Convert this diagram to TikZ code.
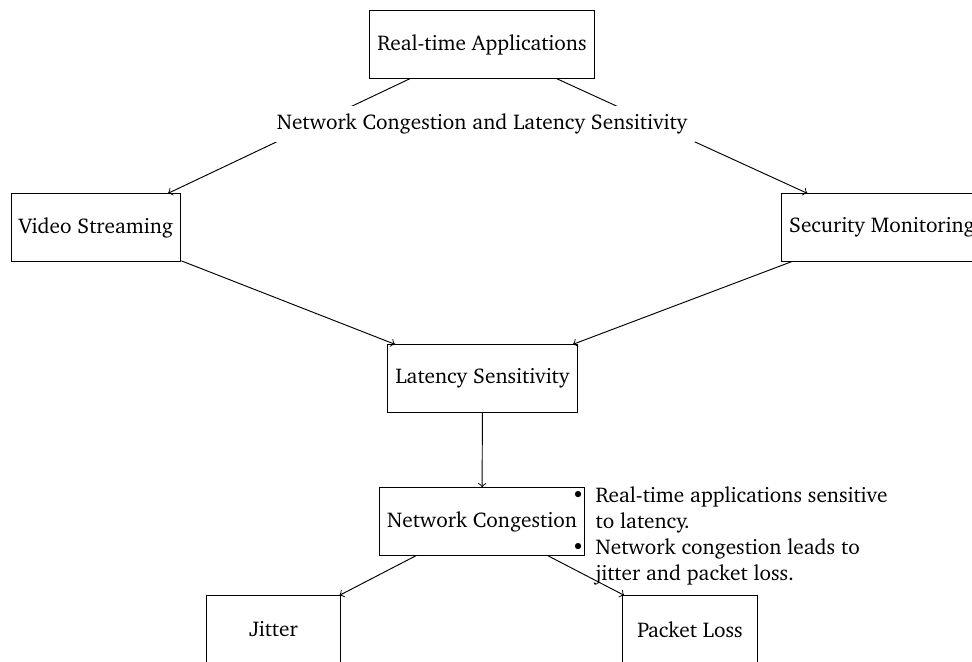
\documentclass[tikz,border=0pt]{standalone}
\usepackage[T1]{fontenc}
\usepackage{charter}
\begin{document}
\begin{tikzpicture}[x=0.4221pt,y=-0.4221pt,
  every node/.style={font=\fontsize{9}{11}\selectfont},
  box/.style={draw, minimum width=2cm, minimum height=1cm, inner sep=3.33pt},
  link/.style={->}]
\useasboundingbox (0,0) rectangle (972,661);
\clip (0,0) rectangle (972,661);
% boxes
\node[box] (rta) at (482,44.5) {Real-time Applications};
\node[box] (vs) at (96,227.5) {Video Streaming};
\node[box] (sm) at (882,227.5) {Security Monitoring};
\node[box] (ls) at (482.5,378.5) {Latency Sensitivity};
\node[box] (nc) at (482,521.5) {Network Congestion};
\node[box] (jit) at (273.5,629.5) {Jitter};
\node[box] (pl) at (690,629.5) {Packet Loss};
% connectors
\draw[link] (rta) -- (vs);
\draw[link] (rta) -- (sm);
\node[fill=white] (lbl) at (482,124) {Network Congestion and Latency Sensitivity};
\draw[link] (vs) -- (ls);
\draw[link] (sm) -- (ls);
\draw[link] (ls) -- (nc);
\draw[link] (nc) -- (jit);
\draw[link] (nc) -- (pl);
% notes beside the congestion box
\node[anchor=base west, inner sep=0pt] (notes) at (571.5,502) {%
  \begin{tabular}[t]{@{}l@{\hspace{4.7pt}}l@{}}
  \textbullet & Real-time applications sensitive\\
              & to latency.\\
  \textbullet & Network congestion leads to\\
              & jitter and packet loss.
  \end{tabular}};
\end{tikzpicture}
\end{document}
